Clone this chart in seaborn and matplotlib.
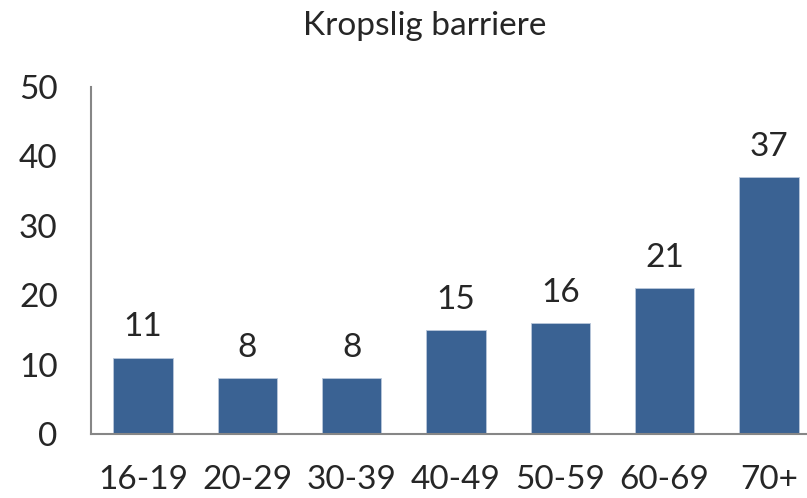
import numpy as np
import pandas as pd
import seaborn as sns
import matplotlib.pyplot as plt

ages = ['16-19', '20-29', '30-39', '40-49', '50-59', '60-69', '70+']
values = [11, 8, 8, 15, 16, 21, 37]
yticks = [0, 10, 20, 30, 40, 50]

sns.set_style("white")
plt.rcParams['font.family'] = ['Lato', 'DejaVu Sans']

df = pd.DataFrame({'age': ages, 'value': values})

fig = plt.figure(figsize=(8.07, 4.98), dpi=100)
ax = fig.add_axes([91 / 807, 1 - 434 / 498, 730 / 807, 347 / 498])
sns.barplot(data=df, x='age', y='value', color='#3A6293', saturation=1,
            width=0.57, edgecolor='#B9C7DA', linewidth=0.6, ax=ax)

ax.set_xlim(-0.5, 6.5)
ax.set_ylim(0, 50)
ax.set_yticks(yticks)
ax.set_xlabel('')
ax.set_ylabel('')
ax.tick_params(axis='both', length=0, labelsize=24)
ax.tick_params(axis='y', pad=24)
ax.tick_params(axis='x', pad=22)
for s in ['top', 'right']:
    ax.spines[s].set_visible(False)
for s in ['left', 'bottom']:
    ax.spines[s].set_color('#868686')
    ax.spines[s].set_linewidth(1.5)

for i, v in enumerate(values):
    ax.text(i, v + 2.2, str(v), ha='center', va='bottom', fontsize=24)

fig.text(425 / 807, 1 - 26 / 498, 'Kropslig barriere', ha='center', va='center', fontsize=24)

plt.savefig('out.png', dpi=100)
